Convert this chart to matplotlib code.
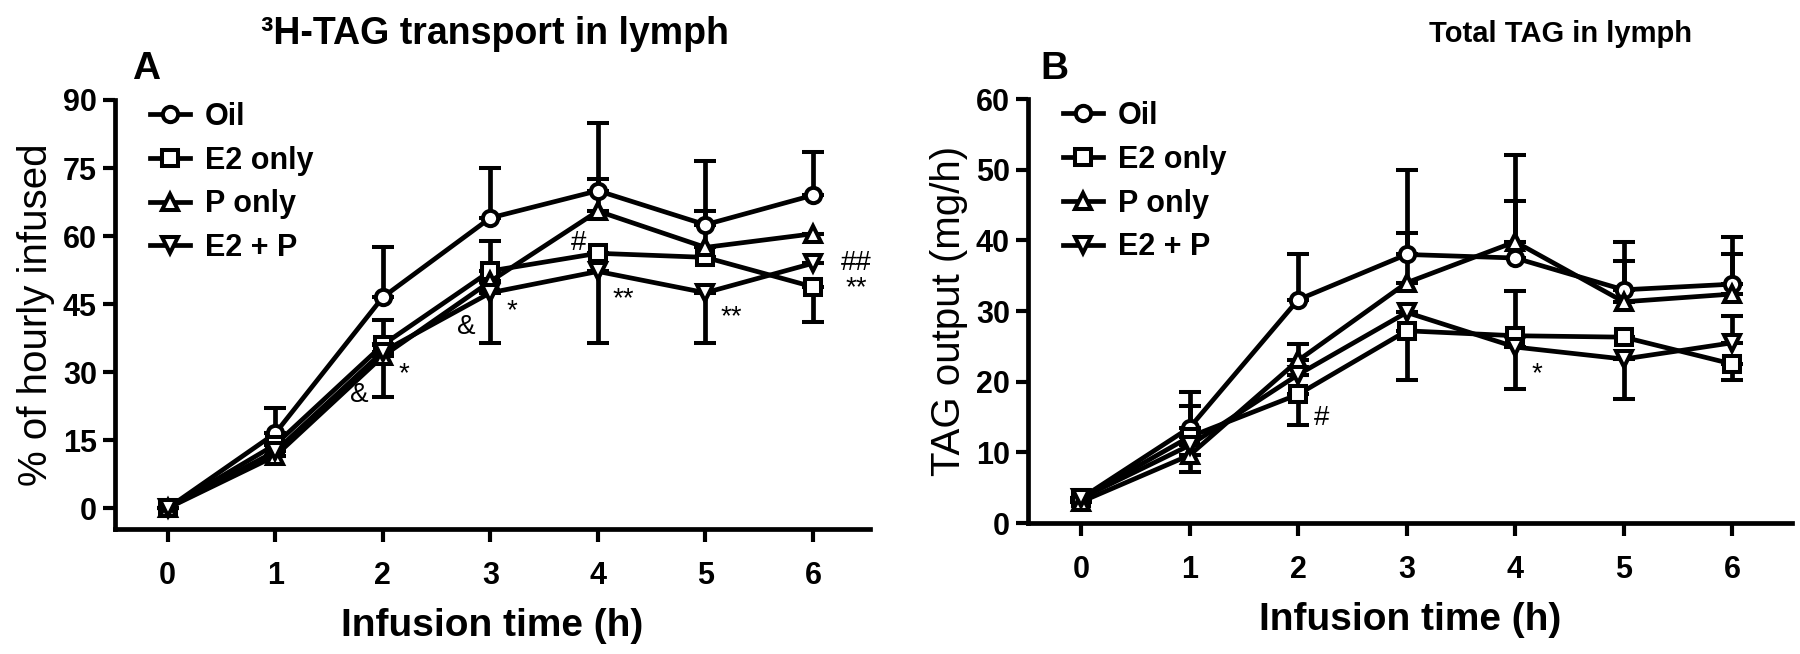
import numpy as np
import matplotlib
matplotlib.use('Agg')
import matplotlib.pyplot as plt
from matplotlib.lines import Line2D

# infusion time (h)
hours = [0, 1, 2, 3, 4, 5, 6]
groups = ['Oil', 'E2 only', 'P only', 'E2 + P']
markers = ['o', 's', '^', 'v']

# panel A: % of hourly infused (mean, lower err, upper err)
a_oil = [0, 16.5, 46.5, 64.0, 70.0, 62.5, 69.0]
a_oil_lo = [0, 0, 0, 0, 0, 0, 0]
a_oil_up = [0, 5.5, 11.0, 11.0, 15.0, 14.0, 9.5]
a_e2 = [0, 14.0, 36.0, 52.3, 56.2, 55.3, 48.8]
a_e2_lo = [0, 0, 0, 0, 0, 0, 7.8]
a_e2_up = [0, 0, 5.5, 6.5, 0, 0, 0]
a_p = [0, 11.5, 33.5, 50.0, 65.5, 57.5, 60.5]
a_p_lo = [0, 0, 0, 0, 0, 0, 0]
a_p_up = [0, 0, 0, 0, 7.0, 8.0, 0]
a_ep = [0, 12.5, 34.5, 47.5, 52.2, 47.5, 54.0]
a_ep_lo = [0, 0, 10.0, 11.0, 15.7, 11.0, 0]
a_ep_up = [0, 0, 0, 0, 0, 0, 0]

# panel B: TAG output (mg/h)
b_oil = [3.5, 13.5, 31.6, 38.0, 37.5, 33.0, 33.8]
b_oil_lo = [0, 0, 0, 0, 0, 0, 0]
b_oil_up = [0, 5.0, 6.5, 12.0, 8.0, 6.7, 6.7]
b_e2 = [3.5, 12.2, 18.2, 27.2, 26.5, 26.3, 22.5]
b_e2_lo = [0, 0, 4.4, 7.0, 0, 0, 2.2]
b_e2_up = [0, 4.3, 0, 0, 6.4, 0, 0]
b_p = [3.0, 9.6, 23.0, 34.0, 39.8, 31.3, 32.4]
b_p_lo = [0, 2.4, 0, 0, 0, 0, 0]
b_p_up = [0, 0, 2.3, 7.0, 12.3, 5.8, 5.6]
b_ep = [3.5, 11.0, 21.0, 29.8, 24.9, 23.2, 25.5]
b_ep_lo = [0, 0, 0, 0, 6.0, 5.7, 0]
b_ep_up = [0, 0, 0, 0, 0, 0, 3.8]

# significance marks (x, y, text)
a_marks = [(1.78, 25.0, '&'), (2.2, 29.5, '*'), (2.78, 40.0, '&'), (3.2, 43.5, '*'),
           (3.82, 58.5, '#'), (4.24, 46.0, '**'), (5.24, 42.0, '**'),
           (6.4, 54.0, '##'), (6.4, 48.5, '**')]
b_marks = [(2.22, 14.8, '#'), (4.2, 21.0, '*')]

plt.rcParams['font.family'] = ['Liberation Sans', 'DejaVu Sans']

fig = plt.figure(figsize=(18, 6.54), dpi=100)
axA = fig.add_axes([0.0639, 0.1911, 0.4194, 0.656])
axB = fig.add_axes([0.5711, 0.2003, 0.4244, 0.6483])


def draw_panel(ax, series, marks, ylim, yticks, ylabel):
    handles = []
    for (y, lo, up), name, m in zip(series, groups, markers):
        ms = 11 if m == 'o' else 12
        ax.errorbar(hours, y, yerr=[lo, up], color='black', lw=3.4,
                    marker=m, ms=ms, mfc='white', mec='black', mew=2.9,
                    capsize=8, capthick=3.4, elinewidth=3.4, clip_on=False)
        handles.append(Line2D([], [], color='black', lw=3.4, marker=m, ms=ms,
                              mfc='white', mec='black', mew=2.9, label=name))
    for x, y, t in marks:
        ax.text(x, y, t, fontsize=20, ha='center', va='center')
    ax.set_xlim(-0.49, 6.53)
    ax.set_ylim(*ylim)
    ax.set_xticks(hours)
    ax.set_yticks(yticks)
    for s in ['top', 'right']:
        ax.spines[s].set_visible(False)
    for s in ['left', 'bottom']:
        ax.spines[s].set_linewidth(3.4)
    ax.tick_params(width=3, length=9, labelsize=22)
    ax.tick_params(axis='x', pad=14)
    ax.tick_params(axis='y', pad=4)
    for lab in ax.get_xticklabels() + ax.get_yticklabels():
        lab.set_fontweight('bold')
    ax.set_xlabel('Infusion time (h)', fontsize=28, fontweight='bold', labelpad=12)
    ax.set_ylabel(ylabel, fontsize=29, labelpad=6)
    ax.legend(handles=handles, loc='upper left', bbox_to_anchor=(0.01, 1.06),
              frameon=False, handlelength=1.3, handletextpad=0.5, labelspacing=0.45,
              prop={'size': 22, 'weight': 'bold'})


draw_panel(axA, [(a_oil, a_oil_lo, a_oil_up), (a_e2, a_e2_lo, a_e2_up),
                 (a_p, a_p_lo, a_p_up), (a_ep, a_ep_lo, a_ep_up)],
           a_marks, (-4.6, 90), np.arange(0, 91, 15), '% of hourly infused')
draw_panel(axB, [(b_oil, b_oil_lo, b_oil_up), (b_e2, b_e2_lo, b_e2_up),
                 (b_p, b_p_lo, b_p_up), (b_ep, b_ep_lo, b_ep_up)],
           b_marks, (0, 60), np.arange(0, 61, 10), 'TAG output (mg/h)')
axB.set_xlim(-0.49, 6.55)

fig.text(0.275, 0.948, '\u00b3H-TAG transport in lymph', fontsize=27, fontweight='bold',
         ha='center', va='center')
fig.text(0.081, 0.895, 'A', fontsize=28, fontweight='bold', ha='center', va='center')
fig.text(0.867, 0.948, 'Total TAG in lymph', fontsize=21, fontweight='bold',
         ha='center', va='center')
fig.text(0.5856, 0.895, 'B', fontsize=28, fontweight='bold', ha='center', va='center')

fig.savefig('out.png', dpi=100)
